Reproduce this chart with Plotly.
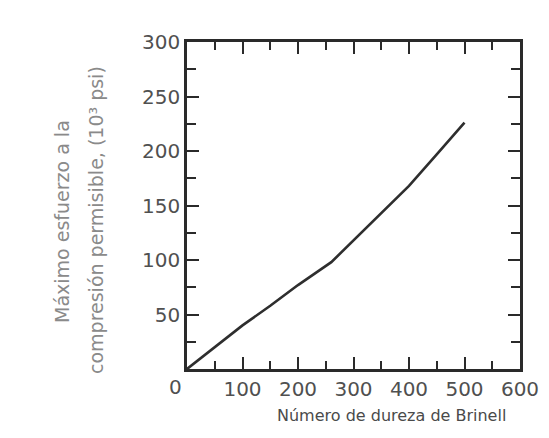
import plotly.graph_objects as go

# Data
brinell = [0, 50, 100, 150, 200, 260, 300, 350, 400, 450, 500]
stress = [0, 20, 40, 58, 77, 98, 118, 143, 168, 197, 226]

x_ticks = [100, 200, 300, 400, 500, 600]
y_ticks = [50, 100, 150, 200, 250, 300]

x_title = "Número de dureza de Brinell"
y_title_1 = "Máximo esfuerzo a la"
y_title_2 = "compresión permisible, (10³ psi)"

fig = go.Figure()
fig.add_trace(go.Scatter(x=brinell, y=stress, mode="lines",
                         line=dict(color="#2e2e2e", width=2.6),
                         showlegend=False, hoverinfo="skip"))

tickfont = dict(family="DejaVu Sans", size=20, color="#505050")
frame = "#2a2a2a"

fig.update_xaxes(range=[0, 600], tickvals=x_ticks, ticktext=[str(v) for v in x_ticks],
                 ticks="inside", ticklen=12, tickwidth=2, tickcolor=frame,
                 minor=dict(dtick=50, tick0=0, ticks="inside", ticklen=8, tickwidth=2, tickcolor=frame),
                 showline=True, linecolor=frame, linewidth=2.5, mirror="ticks",
                 showgrid=False, zeroline=False, tickfont=tickfont)
fig.update_yaxes(range=[0, 300], tickvals=y_ticks, ticktext=[str(v) for v in y_ticks],
                 ticks="inside", ticklen=12, tickwidth=2, tickcolor=frame,
                 minor=dict(dtick=25, tick0=0, ticks="inside", ticklen=9, tickwidth=2, tickcolor=frame),
                 showline=True, linecolor=frame, linewidth=2.5, mirror="ticks",
                 showgrid=False, zeroline=False, tickfont=tickfont)

# page offset (body margin) and target plot-area pixels
OFF = 8
W, H = 549, 438
PL, PR, PT, PB = 187, 520, 42, 369
L = PL - OFF
T = PT - OFF
R = W + OFF - PR
B = H + OFF - PB
pw, ph = PR - PL, PB - PT


def px2paper(px, py):
    return (px - PL) / pw, (PB - py) / ph


titlefont = dict(family="DejaVu Sans", size=19, color="#8a8a8a")
annotations = [
    dict(x=0, y=0, xref="x", yref="y", text="0", showarrow=False,
         xshift=-12, yshift=-18, font=tickfont, xanchor="center", yanchor="middle"),
]
for (px, py, txt, ang, fnt) in [
    (391, 415, x_title, 0, dict(family="DejaVu Sans", size=16, color="#4a4a4a")),
    (62, 222, y_title_1, -90, titlefont),
    (96, 220, y_title_2, -90, titlefont),
]:
    ax, ay = px2paper(px, py)
    annotations.append(dict(x=ax, y=ay, xref="paper", yref="paper", text=txt,
                            showarrow=False, textangle=ang, font=fnt,
                            xanchor="center", yanchor="middle"))

fig.update_layout(width=W, height=H, margin=dict(l=L, r=R, t=T, b=B),
                  plot_bgcolor="white", paper_bgcolor="white",
                  annotations=annotations)

fig.write_html("out.html")
